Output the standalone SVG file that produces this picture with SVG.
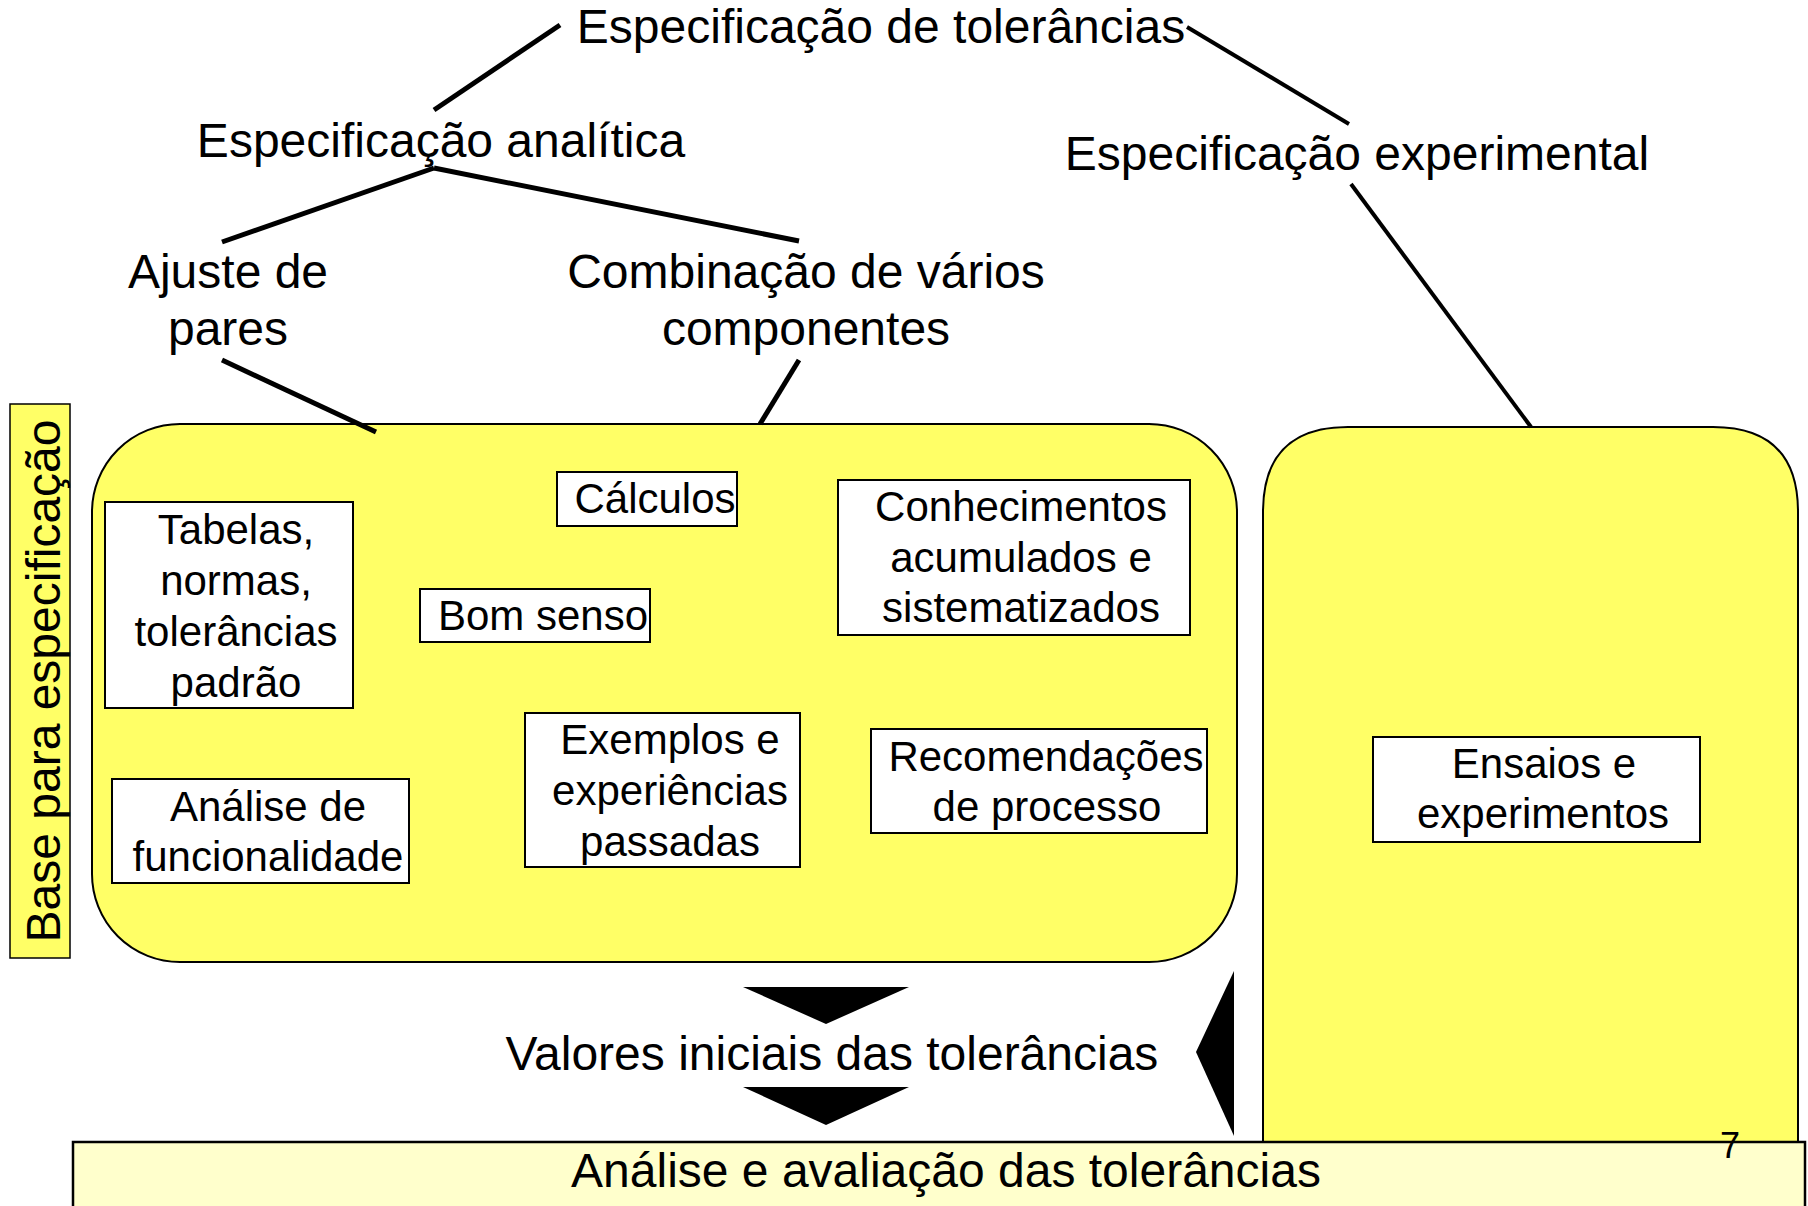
<svg xmlns="http://www.w3.org/2000/svg" width="1808" height="1206" viewBox="0 0 1808 1206">
<style>
text{font-family:"Liberation Sans",Arial,sans-serif;fill:#000}
.big{font-size:48px;text-anchor:middle}
.sm{font-size:42px;text-anchor:middle}
.card{fill:#fff;stroke:#000;stroke-width:2}
.yel{fill:#FFFF66;stroke:#000;stroke-width:2}
.conn line{stroke:#000;stroke-width:5;stroke-linecap:butt}
</style>
<rect width="1808" height="1206" fill="#fff"/>
<g id="panel-right">
<path class="yel" d="M1263,1180 V512 Q1263,427 1348,427 H1713 Q1798,427 1798,512 V1180"/>
</g>
<g id="panel-left">
<rect class="yel" x="92" y="424" width="1145" height="538" rx="88" ry="88"/>
</g>
<g class="conn" id="connectors">
<line x1="560" y1="25" x2="434" y2="110"/>
<line x1="1187" y1="27" x2="1349" y2="124" style="stroke-width:4"/>
<line x1="434" y1="168" x2="222" y2="242"/>
<line x1="434" y1="168" x2="799" y2="241"/>
<line x1="222" y1="360" x2="376" y2="432"/>
<line x1="799" y1="360" x2="760" y2="424"/>
<line x1="1351" y1="184" x2="1531" y2="427" style="stroke-width:4"/>
<polygon points="743,987 909,987 826,1024" fill="#000"/>
<polygon points="743,1087 909,1087 826,1125" fill="#000"/>
<polygon points="1234,971 1196,1052 1234,1136" fill="#000"/>
</g>
<g id="n-title"><text class="big" x="881" y="43">Especificação de tolerâncias</text></g>
<g id="n-analitica"><text class="big" x="441" y="157">Especificação analítica</text></g>
<g id="n-experimental"><text class="big" x="1357" y="170">Especificação experimental</text></g>
<g id="n-ajuste"><text class="big" x="228" y="288">Ajuste de</text><text class="big" x="228" y="345">pares</text></g>
<g id="n-combinacao"><text class="big" x="806" y="288">Combinação de vários</text><text class="big" x="806" y="345">componentes</text></g>
<g id="n-base">
<rect class="yel" x="10" y="404" width="60" height="554" style="stroke-width:1.5"/>
<text class="big" transform="translate(60,681) rotate(-90)" x="0" y="0">Base para especificação</text>
</g>
<g id="n-tabelas">
<rect class="card" x="105" y="502" width="248" height="206"/>
<text class="sm" x="236" y="544">Tabelas,</text>
<text class="sm" x="236" y="595">normas,</text>
<text class="sm" x="236" y="646">tolerâncias</text>
<text class="sm" x="236" y="697">padrão</text>
</g>
<g id="n-calculos">
<rect class="card" x="557" y="472" width="180" height="54"/>
<text class="sm" x="655" y="513">Cálculos</text>
</g>
<g id="n-bomsenso">
<rect class="card" x="420" y="589" width="230" height="53"/>
<text class="sm" x="543" y="630">Bom senso</text>
</g>
<g id="n-conhecimentos">
<rect class="card" x="838" y="480" width="352" height="155"/>
<text class="sm" x="1021" y="521">Conhecimentos</text>
<text class="sm" x="1021" y="572">acumulados e</text>
<text class="sm" x="1021" y="622">sistematizados</text>
</g>
<g id="n-exemplos">
<rect class="card" x="525" y="713" width="275" height="154"/>
<text class="sm" x="670" y="754">Exemplos e</text>
<text class="sm" x="670" y="805">experiências</text>
<text class="sm" x="670" y="856">passadas</text>
</g>
<g id="n-recomendacoes">
<rect class="card" x="871" y="729" width="336" height="104"/>
<text class="sm" x="1046" y="771">Recomendações</text>
<text class="sm" x="1047" y="821">de processo</text>
</g>
<g id="n-analise">
<rect class="card" x="112" y="779" width="297" height="104"/>
<text class="sm" x="268" y="821">Análise de</text>
<text class="sm" x="268" y="871">funcionalidade</text>
</g>
<g id="n-ensaios">
<rect class="card" x="1373" y="737" width="327" height="105"/>
<text class="sm" x="1544" y="778">Ensaios e</text>
<text class="sm" x="1543" y="828">experimentos</text>
</g>
<g id="n-valores"><text class="big" x="832" y="1070">Valores iniciais das tolerâncias</text></g>
<g id="n-avaliacao">
<rect x="73" y="1142" width="1732" height="80" fill="#FFFFCC" stroke="#000" stroke-width="2.5"/>
<text class="big" x="946" y="1187">Análise e avaliação das tolerâncias</text>
</g>
<text x="1730" y="1158" style="font-size:36px;text-anchor:middle">7</text>
</svg>
